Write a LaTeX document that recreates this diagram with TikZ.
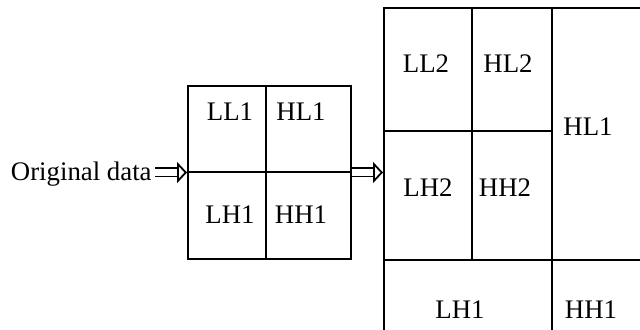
\documentclass[tikz,border=0pt]{standalone}
\usepackage{fontspec}
\setmainfont{Liberation Serif}
\usetikzlibrary{arrows.meta}
\begin{document}
\begin{tikzpicture}[x=0.5pt,y=-0.5pt,
  every node/.style={font=\fontsize{13.4}{15}\selectfont, inner sep=0pt},
  cell/.style={draw, line width=1pt},
  hollow/.style={double, double distance=3.2pt, line width=0.9pt,
    -{Triangle[length=5pt, width=10.5pt, fill=white, line width=0.9pt]}}]
\useasboundingbox (0,0) rectangle (640,330);
\clip (0,0) rectangle (640,330);

% first level
\def\xa{187};
\def\xb{266};
\def\xc{350};
\def\ya{85};
\def\yb{172};
\def\yc{258};
\node[cell, anchor=north west, minimum width=81.5pt, minimum height=86.5pt] (ga) at (\xa, \ya) {};
\draw[cell] (\xb, \ya) -- (\xb, \yc);
\draw[cell] (\xa, \yb) -- (\xc, \yb);
\node (ll1) at (230, 112) {LL1};
\node (hl1) at (301, 112) {HL1};
\node (lh1) at (230, 215) {LH1};
\node (hh1) at (301, 215) {HH1};

% second level
\def\xd{383};
\def\xe{472};
\def\xf{552};
\def\xg{660};
\def\yd{7};
\def\ye{131};
\def\yf{260};
\def\yg{350};
\node[cell, anchor=north west, minimum width=138.5pt, minimum height=171.5pt] (gb) at (\xd, \yd) {};
\draw[cell] (\xe, \yd) -- (\xe, \yf);
\draw[cell] (\xf, \yd) -- (\xf, \yg);
\draw[cell] (\xd, \ye) -- (\xf, \ye);
\draw[cell] (\xd, \yf) -- (\xg, \yf);
\node (ll2) at (426, 64) {LL2};
\node (hl2) at (508, 64) {HL2};
\node (hl1b) at (588, 127) {HL1};
\node (lh2) at (428, 188) {LH2};
\node (hh2) at (505, 188) {HH2};
\node (lh1b) at (460, 310) {LH1};
\node (hh1b) at (591, 310) {HH1};

% input
\node[anchor=east] (orig) at (152, 174) {Original data};
\draw[hollow, shorten <=1.5pt] (orig.east |- ga.west) -- (ga.west);
\draw[hollow] (ga.east) -- (ga.east -| gb.west);
\end{tikzpicture}
\end{document}
